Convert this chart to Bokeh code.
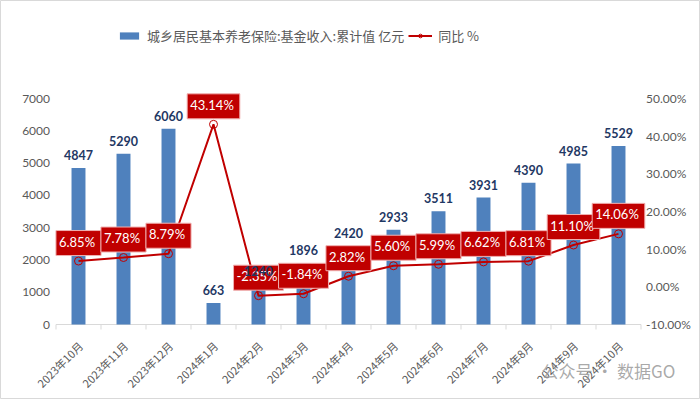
from math import pi
from bokeh.plotting import figure
from bokeh.models import ColumnDataSource, Range1d, Legend, LegendItem, LabelSet, Label
from bokeh.core.properties import value
from bokeh.embed import file_html
from bokeh.resources import INLINE

months = ["2023年10月", "2023年11月", "2023年12月", "2024年1月", "2024年2月", "2024年3月",
          "2024年4月", "2024年5月", "2024年6月", "2024年7月", "2024年8月", "2024年9月", "2024年10月"]
income = [4847, 5290, 6060, 663, 1240, 1896, 2420, 2933, 3511, 3931, 4390, 4985, 5529]
yoy = [6.85, 7.78, 8.79, 43.14, -2.35, -1.84, 2.82, 5.60, 5.99, 6.62, 6.81, 11.10, 14.06]
left_ticks = [0, 1000, 2000, 3000, 4000, 5000, 6000, 7000]
right_ticks = [-10, 0, 10, 20, 30, 40, 50]

# layout (pixels): the value area spans x 55.5..640.5 and y 98..324 of a 700x399 canvas;
# the frame is stretched to the whole canvas so that every text can be drawn in it
W, H = 700, 399
LEFT_PX, RIGHT_PX = 55.5, 640.5
TOP_PX, BOT_PX = 98, 324
N = len(months)

def stretched(lo, hi, a_px, b_px, size):
    u = (hi - lo) / (b_px - a_px)
    return Range1d(lo - a_px * u, hi + (size - b_px) * u)

yr = stretched(0, 7000, H - BOT_PX, H - TOP_PX, H)
pr = stretched(-10, 50, H - BOT_PX, H - TOP_PX, H)
xr = stretched(-0.5, N - 0.5, LEFT_PX, RIGHT_PX, W)

idx = list(range(N))
src = ColumnDataSource(dict(
    x=idx, income=income, yoy=yoy, month=months,
    inc_lbl=[str(v) for v in income],
    yoy_lbl=["%.2f%%" % v for v in yoy],
))

GRAY = "#595959"
BLUE = "#4F81BD"
RED = "#C00000"

p = figure(width=W, height=H, output_backend="svg", toolbar_location=None,
           x_range=xr, y_range=yr,
           min_border_left=0, min_border_right=0, min_border_top=0, min_border_bottom=0,
           background_fill_color="white", border_fill_color="white",
           outline_line_color="#d9d9d9", outline_line_width=1)
p.grid.visible = False
p.axis.visible = False
p.extra_y_ranges = {"pct": pr}

# value axes (tick labels)
p.text(x=-0.5, y=left_ticks, text=[str(t) for t in left_ticks], x_offset=-6,
       text_align="right", text_baseline="middle", text_font=value("Lato"),
       text_font_size="12px", text_color=GRAY)
p.text(x=N - 0.5, y=right_ticks, text=["%.2f%%" % t for t in right_ticks], x_offset=5,
       y_range_name="pct", text_align="left", text_baseline="middle",
       text_font=value("Lato"), text_font_size="12px", text_color=GRAY)

# category axis (line, boundary ticks, rotated labels)
p.segment(x0=-0.5, y0=0, x1=N - 0.5, y1=0, line_color="#d9d9d9", line_width=1)
p.ray(x=[i - 0.5 for i in range(N + 1)], y=0, length=5, length_units="screen",
      angle=-pi / 2, line_color="#d9d9d9", line_width=1)
p.text(x="x", y=0, text="month", source=src, angle=pi / 4, x_offset=2, y_offset=19,
       text_align="right", text_baseline="middle", text_font=value("Noto Sans CJK SC"),
       text_font_size="11px", text_color=GRAY)

bars = p.vbar(x="x", top="income", width=0.31, source=src, fill_color=BLUE, line_color=None)

p.add_layout(LabelSet(x="x", y="income", text="inc_lbl", source=src, y_offset=8,
                      text_align="center", text_baseline="bottom",
                      text_font=value("Lato"), text_font_size="12.5px", text_font_style="bold",
                      text_color="#1F3864"))

line = p.line(x="x", y="yoy", source=src, y_range_name="pct", line_color=RED, line_width=2)
marks = p.scatter(x="x", y="yoy", source=src, y_range_name="pct", marker="circle", size=8,
                  line_color=RED, fill_color=None, line_width=1)

p.text(x="x", y="yoy", text="yoy_lbl", source=src, y_range_name="pct", y_offset=-18,
       text_align="center", text_baseline="middle", text_font=value("Lato"),
       text_font_size="13px", text_color="white",
       background_fill_color=RED, border_line_color="#f0b0b0", border_line_width=1,
       padding=[3, 6, 3, 6])

legend = Legend(items=[
    LegendItem(label="城乡居民基本养老保险:基金收入:累计值 亿元", renderers=[bars]),
    LegendItem(label="同比 %", renderers=[line, marks]),
], location=(117, H - 45), orientation="horizontal", padding=0, margin=0, spacing=4,
    border_line_color=None, background_fill_alpha=0, label_standoff=6,
    glyph_width=24, glyph_height=9, label_height=18,
    label_text_font="Noto Sans CJK SC", label_text_font_size="13px", label_text_color=GRAY)
p.add_layout(legend, "center")

p.add_layout(Label(x=541, y=29, x_units="screen", y_units="screen", text="公众号 · 数据GO",
                   text_font="Noto Sans CJK SC", text_font_size="17px", text_color="#9a9a9a",
                   text_alpha=0.85, text_baseline="middle"))

html = file_html(p, INLINE)
html = html.replace("<head>", "<head><style>body{margin:0;overflow:hidden}</style>", 1)
open("out.html", "w").write(html)
